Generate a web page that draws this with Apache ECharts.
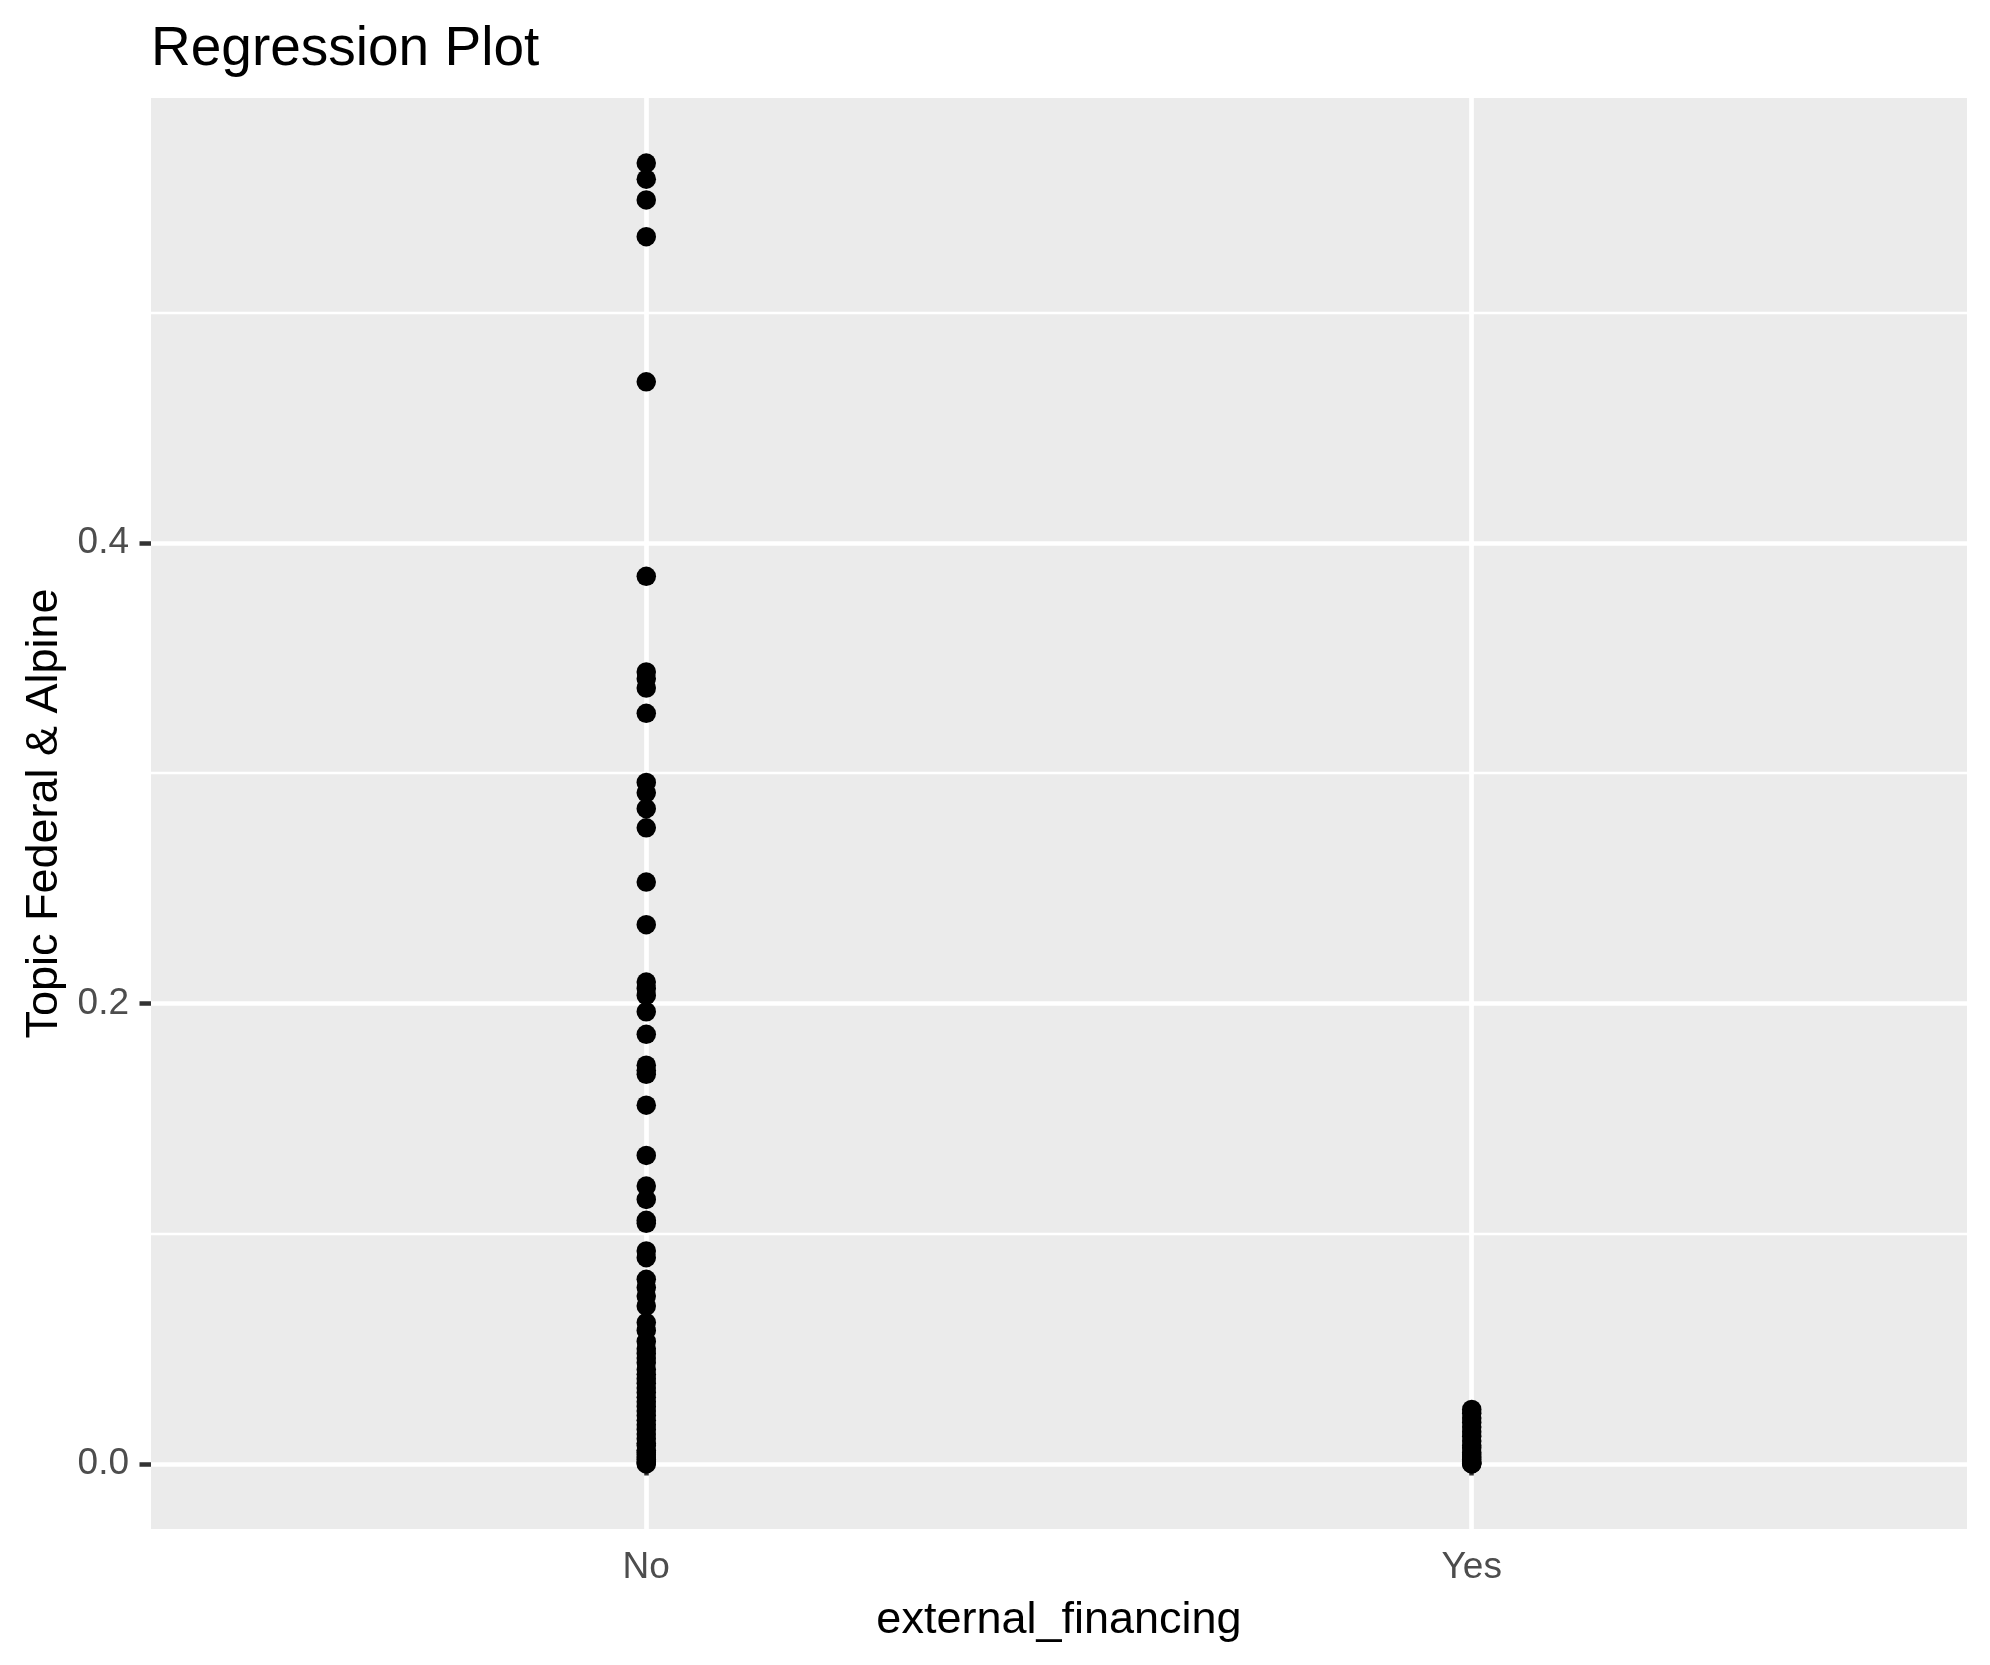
<!DOCTYPE html>
<html>
<head>
<meta charset="utf-8">
<script src="https://cdn.jsdelivr.net/npm/echarts@6/dist/echarts.min.js"></script>
<style>html,body{margin:0;padding:0;background:#fff;}#c{width:1990px;height:1665px;}</style>
</head>
<body>
<div id="c"></div>
<script>
const categories = ['No', 'Yes'];
const noValues = [0.565, 0.558, 0.549, 0.533, 0.470, 0.3855, 0.344, 0.341, 0.337, 0.326,
  0.296, 0.2915, 0.2846, 0.2763, 0.2527, 0.2342, 0.2093, 0.2065, 0.2035, 0.1964, 0.1866,
  0.1732, 0.171, 0.1692, 0.1558, 0.134, 0.1207, 0.1149, 0.1058, 0.1045, 0.0925, 0.0896,
  0.0802, 0.0766, 0.0729, 0.0686, 0.0614, 0.058, 0.0532, 0.050, 0.048, 0.046, 0.044,
  0.041, 0.039, 0.037, 0.035, 0.033, 0.031, 0.029, 0.027, 0.025, 0.023, 0.021, 0.019,
  0.017, 0.015, 0.013, 0.011, 0.009, 0.008, 0.006, 0.005, 0.004, 0.003, 0.002, 0.001,
  0.0005, 0.0];
const yesValues = [0.0237, 0.022, 0.020, 0.018, 0.016, 0.014, 0.012, 0.010, 0.008, 0.007,
  0.005, 0.004, 0.003, 0.002, 0.001, 0.0005, 0.0002, 0.0];
const yMajorTicks = [0, 0.2, 0.4];
const yMinorTicks = [0.1, 0.3, 0.5];
const titleText = 'Regression Plot';
const xTitle = 'external_financing';
const yTitle = 'Topic Federal & Alpine';

const allVals = noValues.concat(yesValues);
const dMax = Math.max.apply(null, allVals), dMin = Math.min.apply(null, allVals);
const span = dMax - dMin;
const yMin = dMin - 0.05 * span, yMax = dMax + 0.05 * span;

const pts = [];
noValues.forEach(v => pts.push([1, v]));
yesValues.forEach(v => pts.push([2, v]));

const FONT = 'Liberation Sans';
const chart = echarts.init(document.getElementById('c'), null, {renderer: 'canvas'});
chart.setOption({
  backgroundColor: '#ffffff',
  animation: false,
  title: {
    text: titleText, left: 146, top: 17,
    textStyle: {fontFamily: FONT, fontSize: 55, fontWeight: 'normal', color: '#000000'}
  },
  grid: {left: 151, right: 23, top: 98, bottom: 136, show: true, backgroundColor: '#EBEBEB', borderWidth: 0, containLabel: false, outerBoundsMode: 'none'},
  xAxis: {
    type: 'value', min: 0.4, max: 2.6,
    name: xTitle, nameLocation: 'middle', nameGap: 69,
    nameTextStyle: {fontFamily: FONT, fontSize: 45, color: '#000000'},
    axisLine: {show: false},
    axisTick: {show: true, length: 11.5, lineStyle: {color: '#333333', width: 4.5}, customValues: [1, 2]},
    axisLabel: {show: true, margin: 20, fontFamily: FONT, fontSize: 37, color: '#4D4D4D', customValues: [1, 2],
      formatter: v => categories[Math.round(v) - 1] || ''},
    splitLine: {show: true, lineStyle: {color: '#FFFFFF', width: 4.7}}
  },
  yAxis: [{
    type: 'value', min: yMin, max: yMax,
    name: yTitle, nameLocation: 'middle', nameGap: 84, nameRotate: 90,
    nameTextStyle: {fontFamily: FONT, fontSize: 45, color: '#000000'},
    axisLine: {show: false},
    axisTick: {show: true, length: 11.5, lineStyle: {color: '#333333', width: 4.5}, customValues: yMajorTicks},
    axisLabel: {show: true, margin: 22, fontFamily: FONT, fontSize: 37, color: '#4D4D4D', customValues: yMajorTicks,
      formatter: v => v.toFixed(1)},
    splitLine: {show: true, lineStyle: {color: '#FFFFFF', width: 4.7}}
  }, {
    type: 'value', min: yMin, max: yMax, position: 'left',
    axisLine: {show: false},
    axisTick: {show: false, customValues: yMinorTicks},
    axisLabel: {show: false, customValues: yMinorTicks},
    splitLine: {show: true, lineStyle: {color: '#FFFFFF', width: 2.4}}
  }],
  series: [{
    type: 'scatter', xAxisIndex: 0, yAxisIndex: 0,
    data: pts, symbol: 'circle', symbolSize: 19.5,
    itemStyle: {color: '#000000', opacity: 1}
  }]
});
</script>
</body>
</html>
